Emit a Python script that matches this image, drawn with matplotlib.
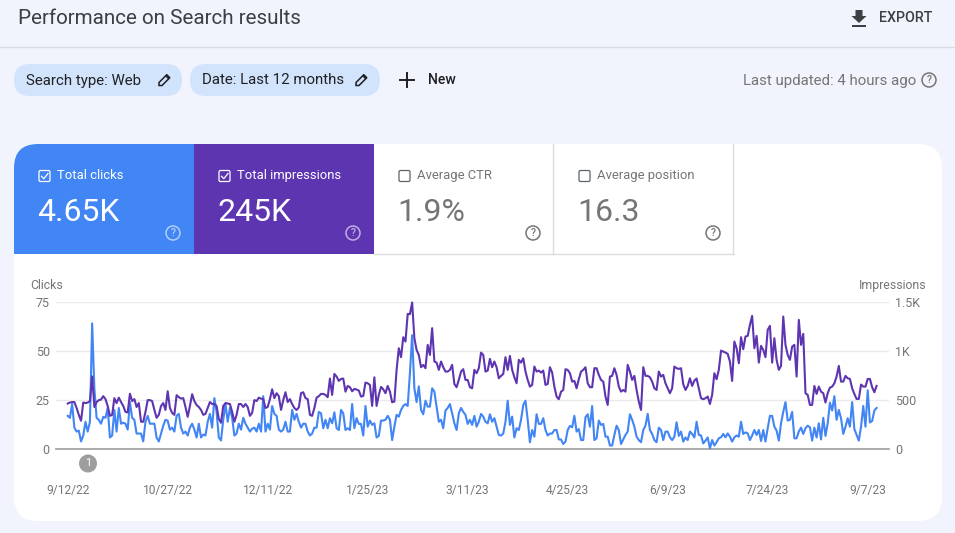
import numpy as np
import pandas as pd
import matplotlib
matplotlib.use("Agg")
import matplotlib.pyplot as plt
import matplotlib.dates as mdates
from matplotlib.patches import Rectangle, FancyBboxPatch, Circle, Polygon

plt.rcParams['font.family'] = ['Roboto', 'DejaVu Sans']

W, H = 955, 533

# daily values, in three stretches
clicks_a = [17, 16, 23, 11, 9, 9.5, 4, 7, 14, 9, 14, 64, 31, 16, 15, 13, 16.5, 16, 21, 6,
            7, 20, 9, 21, 13, 13.5, 13, 10, 24, 16, 15, 8, 8, 8, 4, 14, 17, 13, 13, 13,
            6, 4, 8, 12, 15, 14.5, 10, 11, 9, 17, 18, 11, 8, 9, 7, 11, 13, 10, 6, 13,
            6, 7.5, 7, 14, 18, 11, 26, 19, 6, 4.5, 15, 23, 14, 21, 16, 7, 8, 13, 10, 16,
            13, 11, 9, 10.5, 11, 9, 13, 9, 27, 9, 13, 10, 22, 18, 17, 10, 9, 10, 14, 9,
            9, 20, 15, 18, 14, 11, 13, 13, 9, 7, 8, 11, 11, 19]
clicks_b = [18.3, 10.7, 15, 10.7, 15.8, 13.2, 18.8, 10.7, 9.8, 20, 18.3, 9.8, 10.7, 9.8, 23, 10.7, 15.8, 12.9, 12.9, 7,
            22, 11.5, 14.6, 12.4, 13.2, 6, 6.8, 14.6, 14.6, 15, 17, 15, 4.7, 11.5, 17.5, 16.6, 20, 22, 23, 22,
            38.6, 58, 31, 24, 32, 20, 17.8, 24.7, 21.7, 21.7, 31, 29.3, 21.7, 14, 15, 10.7, 19.7, 21, 23, 18.3,
            13.2, 9.8, 18.3, 21, 19, 17.5, 12.9, 15, 12.4, 17, 11.5, 14, 18, 16.6, 14, 13.2, 17.8, 14, 15.8, 11.5,
            7.3, 7, 8, 14, 24.7, 12.4, 16.6, 6, 10.7, 9.8, 15, 22.5, 24.7, 15, 3.6, 9.8, 6.4, 17.8, 12.9, 12.9,
            15.8, 9.8, 7, 8, 8, 9.8, 9.8, 5, 5, 2.7, 3.9, 9.8, 11.9, 11.2, 17, 9, 10.3, 4.7, 4.7, 16.3,
            17.8, 11.5, 22, 4.7, 5.6, 14.6, 12.4, 12.9, 6.4, 6.4, 1.9, 1.9, 7.3, 12, 9.8]
clicks_c = [2.7, 5, 7.3, 9, 17.8, 15, 11.5, 6.4, 4.7, 3.6, 9.8, 12, 18, 9.8, 7.8, 4.7, 3.6, 11, 9.8, 4.7,
            9, 9, 6.1, 4.7, 6.4, 13.7, 6.8, 9, 3.9, 6, 4.7, 9, 7.8, 6, 14, 7.3, 7, 3, 4.4, 6,
            0.5, 4.7, 1.9, 3.6, 5.6, 6.1, 7.8, 6.1, 8.1, 6.4, 3.9, 6.1, 7, 6.4, 14, 7.8, 8.6, 8.1, 4.7, 7,
            9.8, 7.3, 9.8, 4.2, 9.8, 3.9, 10.7, 17, 17, 11.5, 9.5, 4.4, 13.2, 19, 24, 14.6, 15, 19, 5.6, 5.6,
            9, 11, 7.8, 10.7, 12, 11.2, 4.4, 11, 6, 13.2, 5, 16, 6.8, 13.2, 23.7, 19.7, 27, 15, 20, 15.8,
            7.8, 11.5, 15.8, 11.5, 24, 10.3, 7.3, 4.4, 11.5, 22, 11.5, 30, 13.6, 14.4, 19.7, 21]

impressions_a = [465, 475, 480, 480, 420, 350, 290, 475, 470, 475, 490, 740, 430, 480, 500, 505, 540, 510, 440, 340,
                 350, 520, 470, 525, 480, 440, 380, 375, 565, 490, 510, 430, 470, 280, 280, 380, 500, 500, 490, 400,
                 320, 350, 440, 470, 400, 590, 420, 370, 350, 550, 530, 515, 520, 430, 330, 440, 560, 490, 450, 430,
                 400, 350, 360, 420, 480, 460, 460, 440, 310, 270, 440, 470, 465, 460, 380, 280, 350, 460, 460, 430,
                 460, 430, 340, 370, 500, 490, 525, 515, 510, 420, 430, 510, 610, 520, 570, 540, 400, 500, 580, 480,
                 510, 460, 420, 400, 425, 570, 580, 520, 510, 350, 340, 420, 525, 540]
impressions_b = [563, 563, 553, 529, 719, 553, 766, 739, 695, 715, 719, 586, 644, 631, 590, 614, 607, 597, 536, 542,
                 678, 671, 654, 441, 732, 441, 553, 634, 610, 570, 644, 586, 478, 485, 807, 1027, 936, 1139, 1095, 1376,
                 1373, 1492, 1129, 1010, 959, 834, 858, 824, 1061, 959, 1231, 892, 881, 807, 892, 834, 790, 790, 807, 858,
                 664, 631, 705, 790, 814, 705, 705, 631, 620, 807, 773, 824, 983, 959, 790, 800, 919, 834, 892, 834,
                 722, 746, 766, 936, 807, 949, 807, 732, 671, 909, 881, 925, 790, 705, 637, 654, 841, 790, 800, 780,
                 800, 654, 664, 834, 780, 637, 536, 509, 586, 603, 814, 807, 773, 688, 695, 620, 712, 790, 807, 834,
                 671, 631, 631, 824, 824, 756, 705, 688, 536, 451, 739, 746, 824, 756, 637]
impressions_c = [586, 603, 586, 858, 790, 705, 746, 603, 485, 400, 834, 746, 746, 732, 688, 620, 603, 790, 739, 756,
                 671, 620, 570, 620, 841, 824, 817, 824, 661, 603, 644, 722, 644, 698, 719, 620, 519, 509, 519, 536,
                 461, 553, 773, 712, 807, 1003, 993, 983, 970, 892, 695, 1095, 1027, 875, 1139, 1017, 1146, 1153, 1264, 1356,
                 1027, 1153, 881, 1051, 1010, 936, 1214, 1254, 881, 1129, 909, 807, 848, 1349, 1061, 959, 909, 1044, 1061, 739,
                 1315, 1061, 1173, 570, 553, 451, 451, 644, 563, 637, 586, 570, 475, 570, 627, 637, 671, 739, 848, 688,
                 688, 746, 722, 715, 620, 563, 512, 512, 658, 637, 637, 715, 715, 631, 580, 644]

clicks = clicks_a + clicks_b + clicks_c
impressions = impressions_a + impressions_b + impressions_c

start_date = "2022-09-12"
date_ticks = ["9/12/22", "10/27/22", "12/11/22", "1/25/23", "3/11/23",
              "4/25/23", "6/9/23", "7/24/23", "9/7/23"]
clicks_ticks = [0, 25, 50, 75]
impressions_ticks = [0, 500, 1000, 1500]
impressions_labels = ["0", "500", "1K", "1.5K"]

tiles = [("Total clicks", "4.65K"), ("Total impressions", "245K"),
         ("Average CTR", "1.9%"), ("Average position", "16.3")]

BG = "#f1f4fd"
BLUE = "#4285f4"
PURPLE = "#5e35b1"
GREY = "#757575"
RULE = "#dadce0"


def fs(px):
    return px * 0.72


def checkbox(ui, x, y, color, checked):
    ui.add_patch(FancyBboxPatch((x + 1, y + 1), 11, 11, boxstyle="round,pad=0,rounding_size=1.5",
                                fc="none", ec=color, lw=0.9))
    if checked:
        ui.plot([x + 3.5, x + 5.8, x + 10], [y + 6.8, y + 9.2, y + 4], color=color, lw=0.9)


def help_icon(ui, x, y, color):
    ui.add_patch(Circle((x, y), 7, fc="none", ec=color, lw=1.1))
    ui.text(x, y + 0.3, "?", color=color, fontsize=fs(10.5), ha="center", va="center", fontweight="medium")


def pencil(ui, x, y):
    # small pencil icon, x,y is the centre
    ui.add_patch(Polygon([(x - 5, y + 5.5), (x - 5, y + 2.5), (x + 2.5, y - 5), (x + 5.5, y - 2), (x - 2, y + 5.5)],
                         closed=True, fc="none", ec="#202124", lw=1.1))
    ui.add_patch(Polygon([(x + 1.5, y - 4), (x + 3, y - 5.5), (x + 6, y - 2.5), (x + 4.5, y - 1)],
                         closed=True, fc="#202124", ec="#202124", lw=0.5))


fig = plt.figure(figsize=(W / 100, H / 100), dpi=100, facecolor=BG)

# page furniture is laid out in pixels
ui = fig.add_axes([0, 0, 1, 1])
ui.set_xlim(0, W)
ui.set_ylim(H, 0)
ui.axis("off")

ui.text(18, 18.5, "Performance on Search results", fontsize=fs(20.6), color="#3c4043", va="center")
ui.plot([0, W], [47.2, 47.2], color=RULE, lw=1)

# export
ui.add_patch(Polygon([(855.5, 10), (862.5, 10), (862.5, 16), (866.5, 16), (859, 23), (851.5, 16), (855.5, 16)],
                     closed=True, fc="#3c4043", ec="none"))
ui.add_patch(Rectangle((852, 25), 14, 1.8, fc="#3c4043", ec="none"))
ui.text(879, 18.5, "EXPORT", fontsize=fs(14.3), color="#3c4043", va="center", fontweight="medium")

# filter chips
ui.add_patch(FancyBboxPatch((14, 64), 168, 32, boxstyle="round,pad=0,rounding_size=16", fc="#d2e3fc", ec="none"))
ui.add_patch(FancyBboxPatch((190, 64), 190, 32, boxstyle="round,pad=0,rounding_size=16", fc="#d2e3fc", ec="none"))
ui.text(26, 80.5, "Search type: Web", fontsize=fs(15), color="#202124", va="center")
ui.text(202, 80.5, "Date: Last 12 months", fontsize=fs(15), color="#202124", va="center")
pencil(ui, 164, 80)
pencil(ui, 361, 80)
ui.plot([400, 414], [80, 80], color="#202124", lw=1.4)
ui.plot([407, 407], [73, 87], color="#202124", lw=1.4)
ui.text(428, 79.5, "New", fontsize=fs(14), color="#202124", va="center", fontweight="medium")

ui.text(916, 80.5, "Last updated: 4 hours ago", fontsize=fs(15), color=GREY, va="center", ha="right")
help_icon(ui, 929, 80, GREY)

# white card, top left tiles sit on it
card = FancyBboxPatch((14, 144), 928, 377, boxstyle="round,pad=0,rounding_size=24", fc="white", ec="none")
ui.add_patch(card)

blue_tile = Rectangle((14, 144), 180, 110, fc=BLUE, ec="none")
ui.add_patch(blue_tile)
blue_tile.set_clip_path(card)
ui.add_patch(Rectangle((194, 144), 180, 110, fc=PURPLE, ec="none"))
ui.plot([374, 734], [253.5, 253.5], color=RULE, lw=1)
ui.plot([553, 553], [144, 254], color=RULE, lw=1)
ui.plot([733, 733], [144, 254], color=RULE, lw=1)

for i, (name, value) in enumerate(tiles):
    x0 = 14 + 180 * i
    selected = i < 2
    col = "white" if selected else GREY
    checkbox(ui, x0 + 24, 169.5, "white" if selected else "#5f6368", selected)
    ui.text(x0 + 43, 175.2, name, fontsize=fs(13), color=col, va="center")
    ui.text(x0 + 23.5, 212.5, value, fontsize=fs(32), color=col, va="center")
    help_icon(ui, x0 + 159, 233, "#ffffff99" if selected else GREY)

# marker under the axis
ui.add_patch(Circle((88, 463.5), 9, fc="#9e9e9e", ec="none"))
ui.text(88, 463.5, "1", color="white", fontsize=fs(11), ha="center", va="center")

ui.text(30, 285.5, "Clicks", fontsize=fs(12.2), color=GREY, va="center")
ui.text(926, 285.5, "Impressions", fontsize=fs(12.2), color=GREY, va="center", ha="right")

# the chart itself
left, right, top, bottom = 56, 888.5, 301.7, 449.3
ax = fig.add_axes([left / W, 1 - bottom / H, (right - left) / W, (bottom - top) / H])
ax.patch.set_alpha(0)

days = pd.date_range(start_date, periods=len(clicks), freq="D")
day0 = mdates.date2num(days[0])
px_per_day = 100 / 45
ax.plot(days, clicks, color=BLUE, lw=1.5, solid_joinstyle="round", clip_on=False)
ax.set_ylim(0, 75)
ax.set_xlim(day0 - (67.7 - left) / px_per_day, day0 + (right - 67.7) / px_per_day)
ax.set_yticks(clicks_ticks)
ax.set_xticks([day0 + 45 * i for i in range(len(date_ticks))])
ax.set_xticklabels(date_ticks)
ax.tick_params(axis="both", length=0, labelcolor=GREY, labelsize=fs(12))
ax.tick_params(axis="x", pad=25)
ax.tick_params(axis="y", pad=4.5, labelsize=fs(12.5))
ax.grid(axis="y", color="#ebebeb", lw=1)
ax.set_axisbelow(True)
for s in ax.spines.values():
    s.set_visible(False)

ax2 = ax.twinx()
ax2.plot(days, impressions, color=PURPLE, lw=1.5, solid_joinstyle="round", clip_on=False)
ax2.set_ylim(0, 1500)
ax2.set_yticks(impressions_ticks)
ax2.set_yticklabels(impressions_labels)
ax2.tick_params(axis="y", length=0, labelcolor=GREY, labelsize=fs(12.5), pad=5)
for s in ax2.spines.values():
    s.set_visible(False)
ax.axhline(0, color="#9e9e9e", lw=1.2, zorder=1, clip_on=False)

fig.savefig("out.png", dpi=100, facecolor=BG)
